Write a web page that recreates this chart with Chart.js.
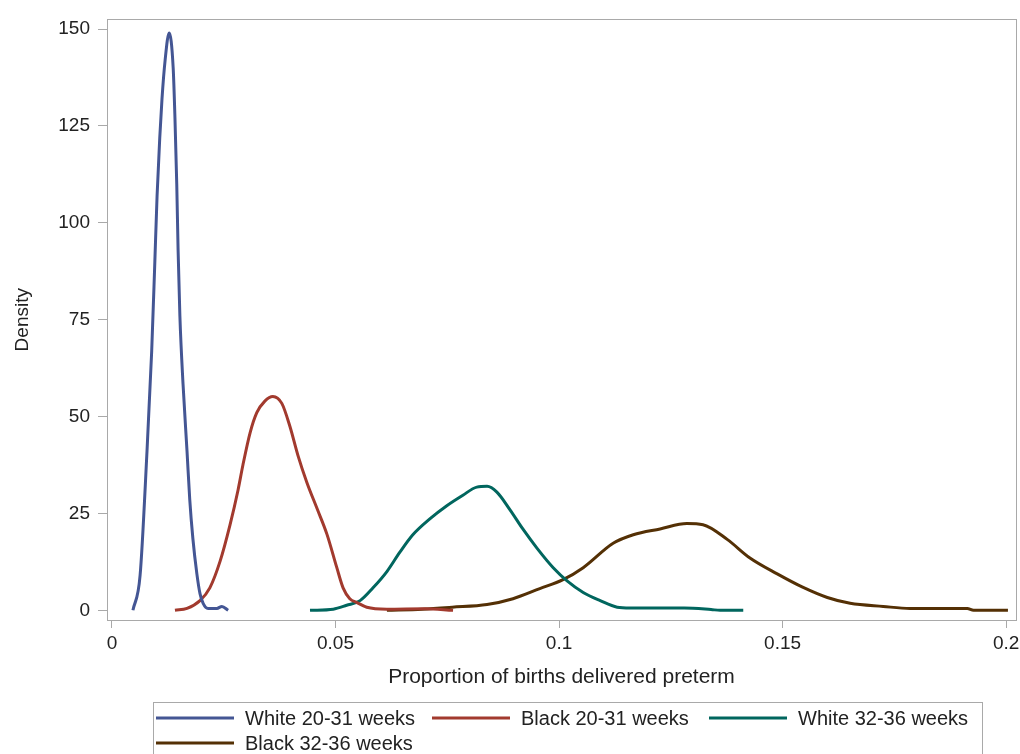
<!DOCTYPE html>
<html lang="en">
<head>
  <meta charset="UTF-8" />
  <title>Density of preterm birth proportions</title>
  <script src="https://cdn.jsdelivr.net/npm/chart.js"></script>
  <style>
    body {
      margin: 0;
      background: #ffffff;
      overflow: hidden;
    }
    canvas {
      display: block;
    }
  </style>
</head>
<body>
  <canvas id="densityChart" width="1020" height="754"></canvas>

  <script>
    // values
    const xTicks = [0, 0.05, 0.1, 0.15, 0.2];
    const yTicks = [0, 25, 50, 75, 100, 125, 150];

    const seriesLabels = ["White 20-31 weeks", "Black 20-31 weeks", "White 32-36 weeks", "Black 32-36 weeks"];
    const seriesColors = ["#445694", "#A23A2E", "#01665E", "#543005"];

    const white2031X = [0.0047, 0.0063, 0.0078, 0.0089, 0.0096, 0.0101, 0.0107, 0.0112, 0.0119, 0.0128, 0.0137, 0.0141, 0.0145, 0.0148, 0.0152, 0.0159, 0.0168, 0.0174, 0.0181, 0.0190, 0.0197, 0.0204, 0.0215, 0.0235, 0.0246, 0.0260];
    const white2031Y = [0, 9, 40, 67, 90, 107, 122, 132, 142, 149, 140, 127, 110, 93, 76, 58.5, 41, 28.7, 18.6, 9.4, 4.3, 1.8, 0.5, 0.5, 1, 0];

    const black2031X = [0.0141, 0.0168, 0.0197, 0.0219, 0.0242, 0.0264, 0.0282, 0.0293, 0.0309, 0.0324, 0.0342, 0.0360, 0.0380, 0.0398, 0.0416, 0.0436, 0.0459, 0.0481, 0.0503, 0.0517, 0.0532, 0.0548, 0.0570, 0.0615, 0.0700, 0.0763];
    const black2031Y = [0, 0.5, 2.5, 5.8, 12.7, 22, 31, 37.5, 45.8, 51, 54, 55.2, 53.4, 47.5, 40, 33, 26.2, 19.6, 11, 5.8, 3, 2, 0.8, 0.3, 0.4, 0];

    const white3236X = [0.0443, 0.0495, 0.0525, 0.0555, 0.0584, 0.0615, 0.0644, 0.0673, 0.0711, 0.0749, 0.0785, 0.0816, 0.0839, 0.0861, 0.0890, 0.0919, 0.0951, 0.0987, 0.1018, 0.1054, 0.1092, 0.1130, 0.1159, 0.1280, 0.1340, 0.1360, 0.1412];
    const white3236Y = [0, 0.3, 1.3, 2.5, 5.8, 10, 15, 19.5, 23.6, 27, 29.7, 31.8, 32, 30.5, 26, 21, 16, 11, 7.6, 4.6, 2.5, 0.8, 0.6, 0.6, 0.2, 0, 0];

    const black3236X = [0.0615, 0.0694, 0.0761, 0.0839, 0.0897, 0.0957, 0.1009, 0.1054, 0.1121, 0.1166, 0.1226, 0.1286, 0.1322, 0.1376, 0.1427, 0.1488, 0.1546, 0.1600, 0.1651, 0.1725, 0.1785, 0.1913, 0.1927, 0.2004];
    const black3236Y = [0, 0.3, 0.8, 1.5, 3, 5.6, 7.9, 11, 17.3, 19.5, 21, 22.4, 22.1, 18.3, 13.5, 9.4, 5.9, 3.3, 1.8, 1, 0.5, 0.5, 0, 0];

    const seriesX = [white2031X, black2031X, white3236X, black3236X];
    const seriesY = [white2031Y, black2031Y, white3236Y, black3236Y];

    const frameColor = "#a9a9a9";
    const textColor = "#222222";
    const fontFamily = "'Liberation Sans', Arial, sans-serif";

    const datasets = seriesLabels.map((label, i) => ({
      label: label,
      data: seriesX[i].map((x, j) => ({ x: x, y: seriesY[i][j] })),
      showLine: true,
      borderColor: seriesColors[i],
      backgroundColor: seriesColors[i],
      borderWidth: 3,
      pointRadius: 0,
      cubicInterpolationMode: "monotone",
      fill: false
    }));

    // full frame around the plot area
    const framePlugin = {
      id: "plotFrame",
      afterDraw: (chart) => {
        const a = chart.chartArea;
        const c = chart.ctx;
        c.save();
        c.strokeStyle = frameColor;
        c.lineWidth = 1;
        c.strokeRect(Math.round(a.left) + 0.5, Math.round(a.top) + 0.5, Math.round(a.right - a.left), Math.round(a.bottom - a.top));
        c.restore();
      }
    };

    // SAS-style boxed legend below the axis title
    const legendPlugin = {
      id: "boxLegend",
      afterDraw: (chart) => {
        const c = chart.ctx;
        const cols = [156, 432, 709];
        const rows = [718, 743];
        c.save();
        c.strokeStyle = frameColor;
        c.lineWidth = 1;
        c.strokeRect(153.5, 702.5, 829, 60);
        c.font = "20px " + fontFamily;
        c.fillStyle = textColor;
        c.textBaseline = "middle";
        chart.data.datasets.forEach((ds, i) => {
          const x = cols[i % 3];
          const y = rows[Math.floor(i / 3)];
          c.strokeStyle = ds.borderColor;
          c.lineWidth = 3;
          c.beginPath();
          c.moveTo(x, y);
          c.lineTo(x + 78, y);
          c.stroke();
          c.fillText(ds.label, x + 89, y + 1);
        });
        c.restore();
      }
    };

    const ctx = document.getElementById("densityChart").getContext("2d");

    new Chart(ctx, {
      type: "scatter",
      data: { datasets: datasets },
      options: {
        responsive: false,
        animation: false,
        layout: {
          padding: { left: 0, right: 4, top: 10, bottom: 64 }
        },
        plugins: {
          legend: { display: false },
          tooltip: { enabled: false }
        },
        scales: {
          x: {
            type: "linear",
            min: -0.0011,
            max: 0.2022,
            afterFit: (scale) => {
              scale.height = 70;
              scale.paddingRight = 0;
            },
            afterBuildTicks: (scale) => { scale.ticks = xTicks.map(v => ({ value: v })); },
            grid: {
              drawOnChartArea: false,
              drawTicks: true,
              tickLength: 8,
              color: frameColor
            },
            border: { display: true, color: frameColor },
            ticks: {
              color: textColor,
              padding: 4,
              maxRotation: 0,
              font: { family: fontFamily, size: 19 },
              callback: (v) => String(v)
            },
            title: {
              display: true,
              text: "Proportion of births delivered preterm",
              color: textColor,
              padding: { top: 0, bottom: 0 },
              font: { family: fontFamily, size: 21 }
            }
          },
          y: {
            type: "linear",
            min: -2.5,
            max: 152.5,
            afterFit: (scale) => { scale.width = 107; },
            afterBuildTicks: (scale) => { scale.ticks = yTicks.map(v => ({ value: v })); },
            grid: {
              drawOnChartArea: false,
              drawTicks: true,
              tickLength: 9,
              color: frameColor
            },
            border: { display: true, color: frameColor },
            ticks: {
              color: textColor,
              padding: 8,
              font: { family: fontFamily, size: 19 }
            },
            title: {
              display: true,
              text: "Density",
              color: textColor,
              padding: { top: 11, bottom: 0 },
              font: { family: fontFamily, size: 19 }
            }
          }
        }
      },
      plugins: [framePlugin, legendPlugin]
    });
  </script>
</body>
</html>
